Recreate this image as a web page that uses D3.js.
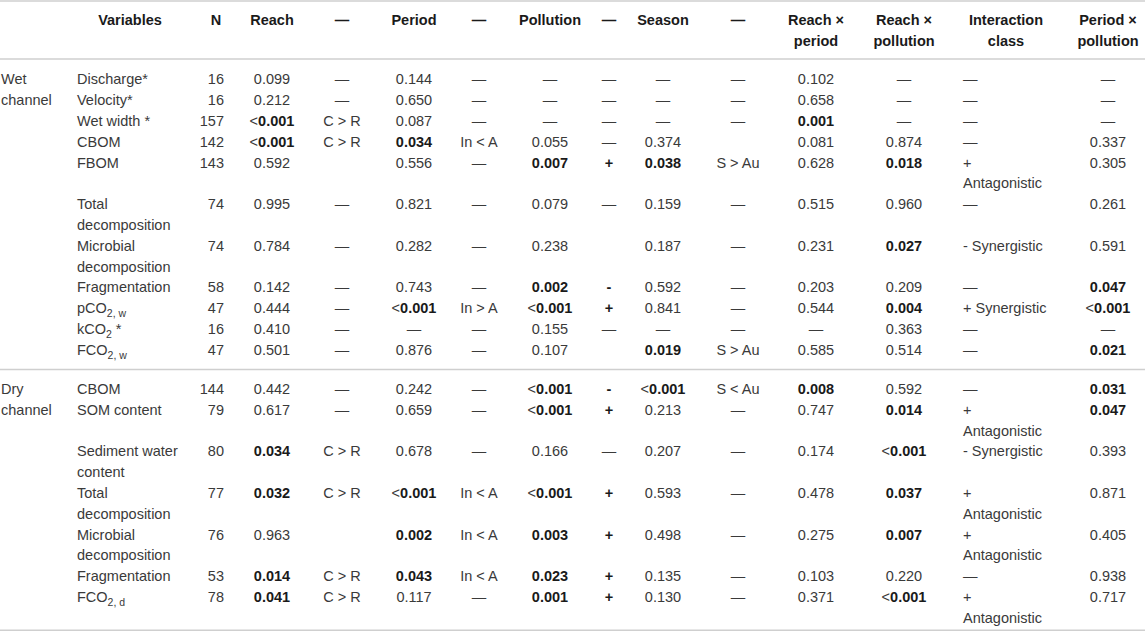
<!DOCTYPE html>
<html>
<head>
<meta charset="utf-8">
<script src="https://cdn.jsdelivr.net/npm/d3@7"></script>
<style>
  body { margin: 0; background: #fff; }
  svg { display: block; }
  text { font-family: "Liberation Sans", Arial, sans-serif; font-size: 14.5px; fill: #3a3a3a; }
  text.bold, tspan.bold { font-weight: bold; fill: #1a1a1a; }
</style>
</head>
<body>
<svg id="table"></svg>
<script>
// ---- data ----
// "!" starts a bold part, "_{...}" is a subscript
const headers = ["", "Variables", "N", "Reach", "—", "Period", "—", "Pollution", "—", "Season", "—",
  "Reach × period", "Reach × pollution", "Interaction class", "Period × pollution"];

const channels = ["Wet channel", "Dry channel"];
const channelOf = [0, 0, 0, 0, 0, 0, 0, 0, 0, 0, 0, 1, 1, 1, 1, 1, 1, 1];

const variables = ["Discharge*", "Velocity*", "Wet width *", "CBOM", "FBOM", "Total decomposition",
  "Microbial decomposition", "Fragmentation", "pCO_{2, w}", "kCO_{2} *", "FCO_{2, w}",
  "CBOM", "SOM content", "Sediment water content", "Total decomposition", "Microbial decomposition",
  "Fragmentation", "FCO_{2, d}"];
const nValues = [16, 16, 157, 142, 143, 74, 74, 58, 47, 16, 47, 144, 79, 80, 77, 76, 53, 78];

const reach = ["0.099", "0.212", "<!0.001", "<!0.001", "0.592", "0.995", "0.784", "0.142", "0.444", "0.410", "0.501",
  "0.442", "0.617", "!0.034", "!0.032", "0.963", "!0.014", "!0.041"];
const reachSig = ["—", "—", "C > R", "C > R", "", "—", "—", "—", "—", "—", "—",
  "—", "—", "C > R", "C > R", "", "C > R", "C > R"];
const period = ["0.144", "0.650", "0.087", "!0.034", "0.556", "0.821", "0.282", "0.743", "<!0.001", "—", "0.876",
  "0.242", "0.659", "0.678", "<!0.001", "!0.002", "!0.043", "0.117"];
const periodSig = ["—", "—", "—", "In < A", "—", "—", "—", "—", "In > A", "—", "—",
  "—", "—", "—", "In < A", "In < A", "In < A", "—"];
const pollution = ["—", "—", "—", "0.055", "!0.007", "0.079", "0.238", "!0.002", "<!0.001", "0.155", "0.107",
  "<!0.001", "<!0.001", "0.166", "<!0.001", "!0.003", "!0.023", "!0.001"];
const pollutionSig = ["—", "—", "—", "—", "!+", "—", "", "!-", "!+", "—", "",
  "!-", "!+", "—", "!+", "!+", "!+", "!+"];
const season = ["—", "—", "—", "0.374", "!0.038", "0.159", "0.187", "0.592", "0.841", "—", "!0.019",
  "<!0.001", "0.213", "0.207", "0.593", "0.498", "0.135", "0.130"];
const seasonSig = ["—", "—", "—", "", "S > Au", "—", "—", "—", "—", "—", "S > Au",
  "S < Au", "—", "—", "—", "—", "—", "—"];
const reachPeriod = ["0.102", "0.658", "!0.001", "0.081", "0.628", "0.515", "0.231", "0.203", "0.544", "—", "0.585",
  "!0.008", "0.747", "0.174", "0.478", "0.275", "0.103", "0.371"];
const reachPollution = ["—", "—", "—", "0.874", "!0.018", "0.960", "!0.027", "0.209", "!0.004", "0.363", "0.514",
  "0.592", "!0.014", "<!0.001", "!0.037", "!0.007", "0.220", "<!0.001"];
const interaction = ["—", "—", "—", "—", "+ Antagonistic", "—", "- Synergistic", "—", "+ Synergistic", "—", "—",
  "—", "+ Antagonistic", "- Synergistic", "+ Antagonistic", "+ Antagonistic", "—", "+ Antagonistic"];
const periodPollution = ["—", "—", "—", "0.337", "0.305", "0.261", "0.591", "!0.047", "<!0.001", "—", "!0.021",
  "!0.031", "!0.047", "0.393", "0.871", "0.405", "0.938", "0.717"];

const columnsData = [null, variables, nValues.map(String), reach, reachSig, period, periodSig, pollution, pollutionSig,
  season, seasonSig, reachPeriod, reachPollution, interaction, periodPollution];

// ---- layout ----
const width = 1145, height = 636;
const keys = d3.range(headers.length);
const colX = d3.scaleOrdinal().domain(keys)
  .range([1, 77, 224, 272, 342, 414, 479, 550, 609, 663, 738, 816, 904, 963, 1108]);
const headX = d3.scaleOrdinal().domain(keys)
  .range([1, 130, 216, 272, 342, 414, 479, 550, 609, 663, 738, 816, 904, 1006, 1108]);
const anchor = k => k <= 1 || k === 13 ? "start" : (k === 2 ? "end" : "middle");
const wrapW = k => k === 0 ? 70 : (k === 1 ? 112 : 88);

const lineH = 20.8, groupGap = 18.4;
const y = d3.scaleLinear().domain([0, 1]).range([79.4, 79.4 + lineH]);  // line index -> text centre
const baseShift = 5;

const svg = d3.select("#table").attr("width", width).attr("height", height);

const measurer = svg.append("text").attr("visibility", "hidden");
const plain = s => s.replace(/!/g, "").replace(/_\{([^}]*)\}/g, "$1");
function textWidth(s, bold) {
  measurer.classed("bold", !!bold).text(plain(s));
  return measurer.node().getComputedTextLength();
}
function wrap(s, maxW, bold) {
  const words = s.split(" ");
  const lines = [];
  let cur = "";
  words.forEach(w => {
    const t = cur ? cur + " " + w : w;
    if (cur && textWidth(t, bold) > maxW) { lines.push(cur); cur = w; }
    else cur = t;
  });
  if (cur) lines.push(cur);
  return lines;
}
function segments(s) {
  const out = [];
  let bold = false;
  s.split(/(!|_\{[^}]*\})/).forEach(p => {
    if (p === "") return;
    if (p === "!") { bold = true; return; }
    const m = p.match(/^_\{([^}]*)\}$/);
    if (m) out.push({t: m[1], bold, sub: true});
    else out.push({t: p, bold, sub: false});
  });
  return out;
}
function drawLine(g, s, x, yy, anc, headBold) {
  const t = g.append("text").attr("x", x).attr("y", yy).attr("text-anchor", anc);
  if (headBold) t.classed("bold", true);
  let down = false;
  segments(s).forEach(seg => {
    const ts = t.append("tspan").text(seg.t).classed("bold", seg.bold || headBold);
    if (seg.sub && !down) { ts.attr("dy", 4).style("font-size", "10.5px"); down = true; }
    else if (seg.sub) ts.style("font-size", "10.5px");
    else if (down) { ts.attr("dy", -4); down = false; }
  });
}

// rules
function rule(yy) {
  svg.append("line").attr("x1", 0).attr("x2", width).attr("y1", yy).attr("y2", yy)
    .attr("stroke", "#cfcfcf").attr("stroke-width", 1.5);
}

// header
const head = svg.append("g");
keys.forEach(k => {
  if (!headers[k]) return;
  wrap(headers[k], k === 1 ? 112 : 80, true).forEach((ln, i) => {
    drawLine(head, ln, headX(k), 20 + i * lineH + baseShift, "middle", true);
  });
});

// body
const body = svg.append("g");
let line = 0, lastGroup = 0, groupStart = 0;
const groupLines = [];
variables.forEach((v, r) => {
  const gi = channelOf[r];
  if (gi !== lastGroup) { groupLines.push([groupStart, line - 1]); groupStart = line; lastGroup = gi; }
  const cells = keys.map(k => {
    if (k === 0) return r === 0 || channelOf[r - 1] !== gi ? wrap(channels[gi], wrapW(0)) : [];
    return wrap(columnsData[k][r], wrapW(k));
  });
  cells.forEach((lines, k) => {
    lines.forEach((ln, i) => {
      drawLine(body, ln, colX(k), y(line + i) + gi * groupGap + baseShift, anchor(k), false);
    });
  });
  line += d3.max(cells.slice(1), c => c.length);
});
groupLines.push([groupStart, line - 1]);

rule(1);
rule(y(0) - 20.4);
rule((y(groupLines[0][1]) + y(groupLines[1][0]) + groupGap) / 2);
rule(y(line - 1) + groupGap + 12.5);
</script>
</body>
</html>
